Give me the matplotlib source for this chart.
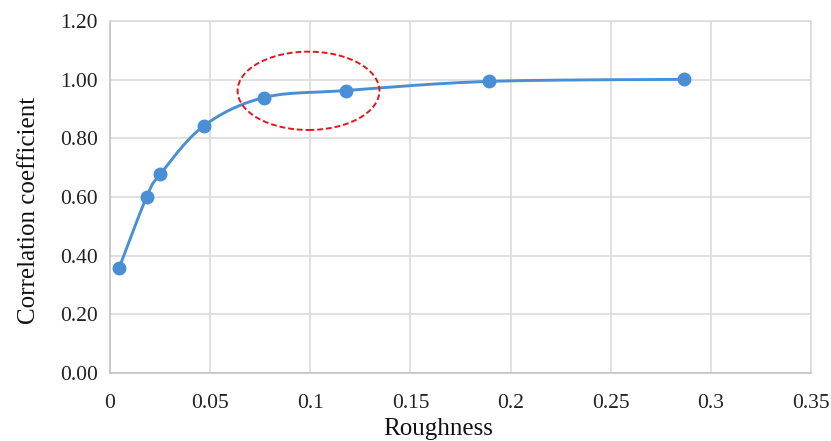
import numpy as np
import matplotlib
matplotlib.use("Agg")
import matplotlib.pyplot as plt
from matplotlib.patches import Ellipse

roughness = [0.0045, 0.0183, 0.0251, 0.0469, 0.0769, 0.1178, 0.1890, 0.2864]
correlation = [0.357, 0.601, 0.678, 0.843, 0.939, 0.963, 0.994, 1.001]
x_ticks = [0, 0.05, 0.1, 0.15, 0.2, 0.25, 0.3, 0.35]
x_tick_labels = ["0", "0.05", "0.1", "0.15", "0.2", "0.25", "0.3", "0.35"]
y_ticks = [0.0, 0.2, 0.4, 0.6, 0.8, 1.0, 1.2]
y_tick_labels = ["0.00", "0.20", "0.40", "0.60", "0.80", "1.00", "1.20"]

plt.rcParams['font.family'] = ['Liberation Serif', 'DejaVu Serif']

def smooth_curve(xs, ys, n=40):
    # Excel-style smoothed line via Bezier segments (Catmull-Rom tangents)
    xs = np.asarray(xs, float); ys = np.asarray(ys, float)
    P = np.column_stack([xs, ys])
    out = []
    for i in range(len(P) - 1):
        p0 = P[i - 1] if i > 0 else P[i]
        p1 = P[i]
        p2 = P[i + 1]
        p3 = P[i + 2] if i + 2 < len(P) else P[i + 1]
        c1 = p1 + (p2 - p0) / 6.0
        c2 = p2 - (p3 - p1) / 6.0
        t = np.linspace(0, 1, n)[:, None]
        seg = ((1 - t) ** 3) * p1 + 3 * ((1 - t) ** 2) * t * c1 + 3 * (1 - t) * t ** 2 * c2 + t ** 3 * p2
        out.append(seg if i == 0 else seg[1:])
    S = np.vstack(out)
    return S[:, 0], S[:, 1]

fig = plt.figure(figsize=(8.31, 4.41), dpi=100)
ax = fig.add_axes([0.1324, 0.1542, 0.8436, 0.7982])

color = '#4a8fd6'
sx, sy = smooth_curve(roughness, correlation)
ax.plot(sx, sy, color=color, lw=2.1, zorder=3)
ax.plot(roughness, correlation, 'o', color=color, ms=9, zorder=4)

ell = Ellipse((0.0991, 0.962), width=0.0708, height=0.267, fill=False,
              edgecolor='#e8141c', lw=1.4, linestyle=(0, (3, 1.5)), zorder=5)
ax.add_patch(ell)

ax.set_xlim(0, 0.35)
ax.set_ylim(0, 1.2)
ax.set_xticks(x_ticks)
ax.set_xticklabels(x_tick_labels)
ax.set_yticks(y_ticks)
ax.set_yticklabels(y_tick_labels)
ax.tick_params(length=0, labelsize=15.5, colors='#222222')
ax.tick_params(axis='x', pad=15)
ax.tick_params(axis='y', pad=9)
ax.grid(True, color='#d9d9d9', lw=1.1)
ax.set_axisbelow(True)
for s in ax.spines.values():
    s.set_color('#d9d9d9')
    s.set_linewidth(1.1)
ax.spines['bottom'].set_color('#bfbfbf')
ax.spines['left'].set_color('#bfbfbf')

ax.set_xlabel('Roughness', fontsize=18, labelpad=4, color='#111111')
ax.set_ylabel('Correlation coefficient', fontsize=18, labelpad=14, color='#111111')
ax.xaxis.label.set_x(0.468)
ax.yaxis.label.set_y(0.463)

fig.savefig('out.png', dpi=100)
